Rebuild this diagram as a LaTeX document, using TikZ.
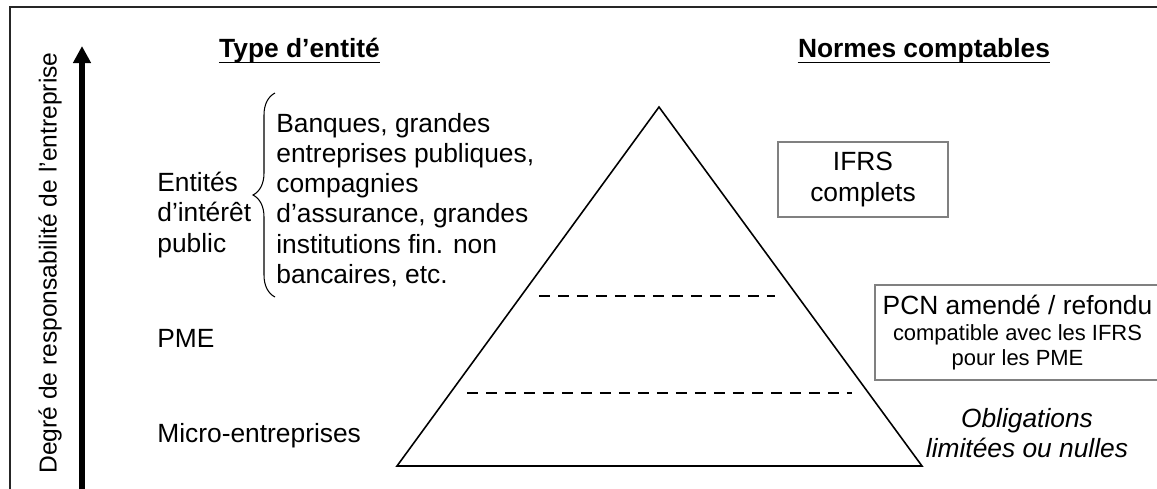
\documentclass[tikz,border=0pt]{standalone}
\usepackage{fontspec}
\setmainfont{Liberation Sans}
\usetikzlibrary{arrows.meta,decorations.pathreplacing}

\tikzset{
  txt/.style={inner sep=0pt, font=\fontsize{15}{17.2}\selectfont},
  title/.style={inner sep=0pt, font=\fontsize{15}{17.2}\selectfont\bfseries},
  uline/.style={line width=1.1pt},
  normbox/.style={draw=black!50, line width=1.1pt, inner sep=0pt, align=center, font=\fontsize{15}{17.2}\selectfont},
  level/.style={line width=1.1pt, dash pattern=on 0.22cm off 0.16cm},
}

\begin{document}
\begin{tikzpicture}[x=0.02cm, y=-0.02cm]
\useasboundingbox (0,0) rectangle (1157,488);
\clip (0,0) rectangle (1157,488);
\draw[line width=1.2pt, black!85] (10,500) -- (10,7) -- (1170,7);

\coordinate (axisbot) at (82,500);
\coordinate (axistop) at (82,46);
\draw[line width=2.9pt, -{Triangle[length=0.34cm, width=0.34cm]}] (axisbot) -- (axistop);
\node[txt, rotate=90, font=\fontsize{14}{16}\selectfont] (degre) at (50,263) {Degré de responsabilité de l’entreprise};

\node[title, anchor=base] (typehead) at (299.5,57) {Type d’entité};
\node[title, anchor=base] (normhead) at (924,57) {Normes comptables};
\draw[uline] ([yshift=-0.11cm]typehead.base west) -- ([yshift=-0.11cm]typehead.base east);
\draw[uline] ([yshift=-0.11cm]normhead.base west) -- ([yshift=-0.11cm]normhead.base east);

\node[txt, anchor=west, align=left] (eip) at (157,215) {Entités\\d’intérêt\\public};
\draw[line width=0.6pt, decorate, decoration={brace, amplitude=0.44cm}] (275,297) -- (275,93);
\node[txt, anchor=west, align=left] (eiplist) at (276,200) {Banques, grandes\\entreprises publiques,\\compagnies\\d’assurance, grandes\\institutions fin. non\\bancaires, etc.};
\node[txt, anchor=base west] (pme) at (157,347) {PME};
\node[txt, anchor=base west] (micro) at (157,442) {Micro-entreprises};

\coordinate (apex) at (659,107);
\coordinate (baseleft) at (397,466);
\coordinate (baseright) at (922,466);
\draw[line width=0.9pt] (apex) -- (baseright) -- (baseleft) -- cycle;
\draw[level] (539,296) -- (775,296);
\draw[level] (467,393) -- (852,393);

\node[normbox, minimum width=3.4cm, minimum height=1.5cm] (ifrs) at (863,179.5) {IFRS\\complets};
\node[normbox, minimum width=5.7cm, minimum height=1.9cm] (pcn) at (1017.5,332.5) {PCN amendé / refondu\\[-2pt]{\fontsize{12.5}{14}\selectfont compatible avec les IFRS}\\[-3pt]{\fontsize{12.5}{14}\selectfont pour les PME}};
\node[txt, align=center, font=\fontsize{15}{17.2}\selectfont\itshape] (oblig) at (1027,433) {Obligations\\limitées ou nulles};
\end{tikzpicture}
\end{document}
